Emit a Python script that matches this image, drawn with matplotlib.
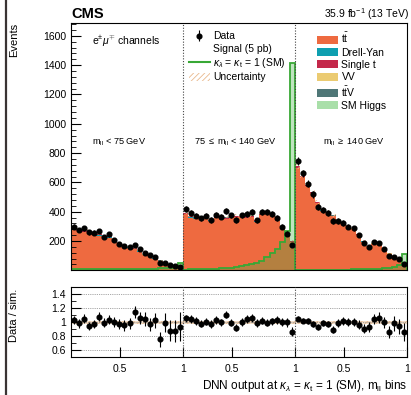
import matplotlib
matplotlib.use('Agg')
import matplotlib.pyplot as plt
import numpy as np
from matplotlib.patches import Patch
from matplotlib.lines import Line2D
from matplotlib.ticker import FixedLocator

plt.rcParams['font.family'] = ['Liberation Sans', 'DejaVu Sans']
plt.rcParams['mathtext.fontset'] = 'custom'
plt.rcParams['mathtext.rm'] = 'Liberation Sans'
plt.rcParams['mathtext.it'] = 'Liberation Sans:italic'
plt.rcParams['mathtext.sf'] = 'Liberation Sans'
plt.rcParams['hatch.linewidth'] = 0.6

# ---------------- data (three m_ll regions, 22 DNN bins each) ----------------
region_labels = [r'$\mathrm{m}_{\mathrm{ll}}$ < 75 GeV',
                 r'75 $\leq$ $\mathrm{m}_{\mathrm{ll}}$ < 140 GeV',
                 r'$\mathrm{m}_{\mathrm{ll}}$ $\geq$ 140 GeV']
dnn_low = 0.115          # lower edge of the DNN output range in each region
n_bins = 22

data_low  = [297, 275, 287, 259, 257, 268, 229, 246, 207, 182, 168, 161, 175, 145, 116, 102, 89, 52, 52, 34, 29, 20]
data_mid  = [416, 389, 373, 355, 373, 343, 380, 366, 403, 375, 343, 375, 386, 398, 341, 398, 396, 386, 357, 296, 250, 175]
data_high = [748, 662, 591, 519, 434, 412, 389, 336, 336, 323, 298, 287, 241, 184, 157, 193, 188, 145, 100, 91, 77, 41]

ratio_low  = [1.03, 0.985, 1.05, 0.95, 0.975, 1.08, 0.995, 1.04, 1.01, 0.97, 0.955, 0.985, 1.15, 1.065, 1.05, 0.97, 1.03, 0.76, 0.995, 0.88, 0.875, 0.94]
ratio_mid  = [1.057, 1.047, 1.019, 0.98, 1.009, 0.976, 1.033, 1.0, 1.11, 0.995, 0.92, 1.004, 1.047, 1.06, 0.99, 1.023, 0.995, 1.014, 1.03, 1.0, 1.0, 0.866]
ratio_high = [1.05, 1.023, 1.014, 0.97, 0.933, 0.99, 0.976, 0.895, 0.99, 1.023, 1.0, 1.0, 0.966, 0.909, 0.933, 1.05, 1.066, 1.0, 0.861, 0.985, 0.947, 0.861]

tt_low  = [278, 269, 262, 261, 252, 236, 219, 221, 194, 178, 166, 154, 144, 128, 103, 98, 79, 62, 48, 35, 29, 18]
tt_mid  = [381, 359, 353, 349, 357, 338, 355, 353, 350, 364, 361, 361, 357, 363, 332, 377, 386, 370, 336, 285, 240, 192]
tt_high = [700, 635, 572, 525, 456, 408, 391, 368, 332, 309, 292, 281, 243, 196, 163, 179, 171, 140, 111, 88, 77, 44]

dy_low  = [2, 2, 2, 2, 2, 3, 3, 8, 4, 3, 3, 3, 2, 2, 2, 2, 2, 2, 1, 1, 1, 1]
dy_mid  = [3, 3, 3, 3, 3, 3, 3, 3, 3, 3, 3, 3, 3, 3, 3, 3, 3, 3, 3, 3, 3, 3]
dy_high = [1, 1, 1, 1, 1, 1, 1, 1, 1, 1, 1, 1, 1, 1, 1, 1, 1, 1, 1, 1, 1, 1]

st_low  = [5, 5, 6, 7, 7, 6, 5, 5, 4, 4, 4, 3, 3, 3, 2, 2, 2, 1, 1, 1, 1, 0]
st_mid  = [6, 6, 6, 6, 6, 6, 6, 6, 6, 6, 5, 5, 5, 5, 5, 5, 5, 4, 4, 4, 3, 3]
st_high = [8, 8, 7, 7, 6, 5, 5, 4, 4, 4, 3, 3, 3, 3, 2, 2, 2, 2, 2, 1, 1, 1]

vv_low  = [1] * 22
vv_mid  = [1] * 22
vv_high = [1] * 22

ttv_low  = [1] * 22
ttv_mid  = [1] * 22
ttv_high = [1] * 22

h_low  = [1] * 22
h_mid  = [2] * 22
h_high = [1] * 22

sig_low  = [6, 6, 6, 6, 6, 7, 7, 7, 7, 8, 8, 8, 9, 9, 10, 11, 12, 13, 14, 16, 20, 52]
sig_mid  = [5, 6, 7, 8, 9, 10, 12, 14, 16, 19, 22, 27, 33, 41, 52, 66, 89, 116, 143, 195, 270, 1415]
sig_high = [5, 5, 5, 5, 5, 5, 5, 5, 5, 5, 5, 6, 6, 7, 8, 9, 11, 13, 16, 22, 36, 110]

unc_rel = 0.025

bkg_names  = ['t$\\bar{\\mathrm{t}}$', 'Drell-Yan', 'Single t', 'VV', 't$\\bar{\\mathrm{t}}$V', 'SM Higgs']
bkg_colors = ['#ee6a40', '#0e9fb0', '#c4284a', '#ebcb72', '#4f7777', '#a9dfa9']

# ---------------- assemble ----------------
data  = np.array(data_low + data_mid + data_high, float)
ratio = np.array(ratio_low + ratio_mid + ratio_high, float)
bkgs = [np.array(a + b + c, float) for a, b, c in [
    (tt_low, tt_mid, tt_high), (dy_low, dy_mid, dy_high), (st_low, st_mid, st_high),
    (vv_low, vv_mid, vv_high), (ttv_low, ttv_mid, ttv_high), (h_low, h_mid, h_high)]]
sig = np.array(sig_low + sig_mid + sig_high, float)

edges = np.concatenate([r + np.linspace(0, 1, n_bins + 1)[:-1] for r in range(3)] + [[3.0]])
centers = 0.5 * (edges[:-1] + edges[1:])

def to_axis(region, value):
    return region + (value - dnn_low) / (1 - dnn_low)

# ---------------- figure ----------------
W, H = 411, 395
AX_L, AX_W = 71, 336
fig = plt.figure(figsize=(W / 100, H / 100), dpi=100)
ax = fig.add_axes([AX_L / W, 1 - 270.3 / H, AX_W / W, 247.6 / H])
rax = fig.add_axes([AX_L / W, 1 - 357.3 / H, AX_W / W, 70 / H])

# stacked backgrounds
base = np.zeros_like(data)
for vals, c in zip(bkgs, bkg_colors):
    ax.stairs(base + vals, edges, baseline=base, fill=True, color=c, lw=0)
    base = base + vals
total = base

# uncertainty band
ax.stairs(total * (1 + unc_rel), edges, baseline=total * (1 - unc_rel), fill=True,
          facecolor='none', edgecolor='#e9b88c', hatch='//////', lw=0)

# signal
ax.stairs(sig, edges, fill=True, facecolor=(0.25, 0.68, 0.25, 0.33), lw=0)
ax.stairs(sig, edges, color='#38a835', lw=1.3)

# data
eb = ax.errorbar(centers, data, yerr=np.sqrt(data), fmt='o', color='black',
                 ms=3.4, elinewidth=0.8, capsize=0, zorder=5)

ax.set_xlim(0, 3)
ax.set_ylim(0, 1690)
ax.yaxis.set_major_locator(FixedLocator([200, 400, 600, 800, 1000, 1200, 1400, 1600]))
ax.yaxis.set_minor_locator(FixedLocator([v for v in range(40, 1690, 40) if v % 200]))
ax.tick_params(axis='y', which='both', direction='in', left=True, right=False, labelsize=7.5)
ax.tick_params(axis='y', which='major', length=7, width=0.8)
ax.tick_params(axis='y', which='minor', length=3.5, width=0.6)
ax.tick_params(axis='x', which='both', bottom=False, labelbottom=False)
for b in [1, 2]:
    ax.axvline(b, color='#444444', ls=(0, (1, 1.5)), lw=0.8, zorder=6)
    rax.axvline(b, color='#444444', ls=(0, (1, 1.5)), lw=0.8, zorder=6)

ax.set_ylabel('Events', loc='top', fontsize=8)
ax.yaxis.set_label_coords(-0.155, 1.0)

# region labels
for r, (lab, fx) in enumerate(zip(region_labels, [0.43, 0.47, 0.53])):
    ax.text(r + fx, 0.518, lab, transform=ax.get_xaxis_transform(),
            ha='center', va='center', fontsize=6.6)

ax.text((92 - AX_L) / AX_W, 1 - (41 - 22.7) / 247.6, r'e$^{\pm}$$\mu^{\mp}$ channels',
        transform=ax.transAxes, ha='left', va='center', fontsize=7.5)

# legends
h_sig_label = Line2D([], [], color='none')
h_sig = Line2D([], [], color='#38a835', lw=1.5)
h_unc = Patch(facecolor='none', edgecolor='#e9b88c', hatch='//////', lw=0)
leg1 = ax.legend([eb, h_sig_label, h_sig, h_unc],
                 ['Data', 'Signal (5 pb)', r'$\kappa_{\lambda}$ = $\kappa_{\mathrm{t}}$ = 1 (SM)', 'Uncertainty'],
                 loc='upper left', bbox_to_anchor=((189 - AX_L) / AX_W, 0.965), frameon=False, fontsize=7.5,
                 borderpad=0, borderaxespad=0, labelspacing=0.22, handlelength=2.0,
                 handletextpad=0.35, handleheight=0.8)
ax.add_artist(leg1)
handles2 = [Patch(facecolor=c, edgecolor='none') for c in bkg_colors]
ax.legend(handles2, bkg_names, loc='upper left', bbox_to_anchor=((317 - AX_L) / AX_W, 0.965), frameon=False,
          fontsize=7.5, borderpad=0, borderaxespad=0, labelspacing=0.22, handlelength=2.0,
          handletextpad=0.35, handleheight=0.8)

# ratio panel
rax.stairs(np.full(len(data), 1 + unc_rel), edges, baseline=np.full(len(data), 1 - unc_rel),
           fill=True, facecolor='#f3dcc4', edgecolor='#e3b48a', hatch='//////', lw=0, alpha=0.9)
rax.errorbar(centers, ratio, yerr=np.sqrt(data) / total, fmt='o', color='black',
             ms=3.4, elinewidth=0.8, capsize=0, zorder=5)
for g in [0.6, 0.8, 1.0, 1.2, 1.4]:
    rax.axhline(g, color='#888888', ls=(0, (1, 1.2)), lw=0.6, zorder=1)
rax.set_xlim(0, 3)
rax.set_ylim(0.5, 1.5)
rax.set_yticks([0.6, 0.8, 1.0, 1.2, 1.4])
rax.set_yticklabels(['0.6', '0.8', '1', '1.2', '1.4'])
rax.yaxis.set_minor_locator(FixedLocator([0.7, 0.9, 1.1, 1.3]))
tick_pos = [to_axis(r, 0.5) for r in range(3)] + [1, 2, 3]
rax.set_xticks(tick_pos)
rax.set_xticklabels(['0.5'] * 3 + ['1'] * 3)
rax.tick_params(axis='both', which='both', direction='in', labelsize=7.5)
rax.tick_params(axis='y', which='major', length=7, width=0.8)
rax.tick_params(axis='y', which='minor', length=3.5, width=0.6)
rax.tick_params(axis='x', which='major', length=7, width=0.8, pad=5)
rax.set_ylabel('Data / sim.', fontsize=8)
rax.yaxis.set_label_coords(-0.155, 0.6)
rax.set_xlabel(r'DNN output at $\kappa_{\lambda}$ = $\kappa_{\mathrm{t}}$ = 1 (SM), $\mathrm{m}_{\mathrm{ll}}$ bins',
               loc='right', fontsize=8.5, labelpad=3)

fig.text(AX_L / W, 1 - 18 / H, 'CMS', weight='bold', fontsize=10.5, ha='left', va='baseline')
fig.text(409 / W, 1 - 18 / H, r'35.9 fb$^{\mathregular{-1}}$ (13 TeV)', ha='right', va='baseline', fontsize=7.5)

fig.add_artist(Line2D([6 / W, 6 / W], [0, 1], color='#3a3434', lw=1.6))

fig.savefig('out.png', dpi=100)
